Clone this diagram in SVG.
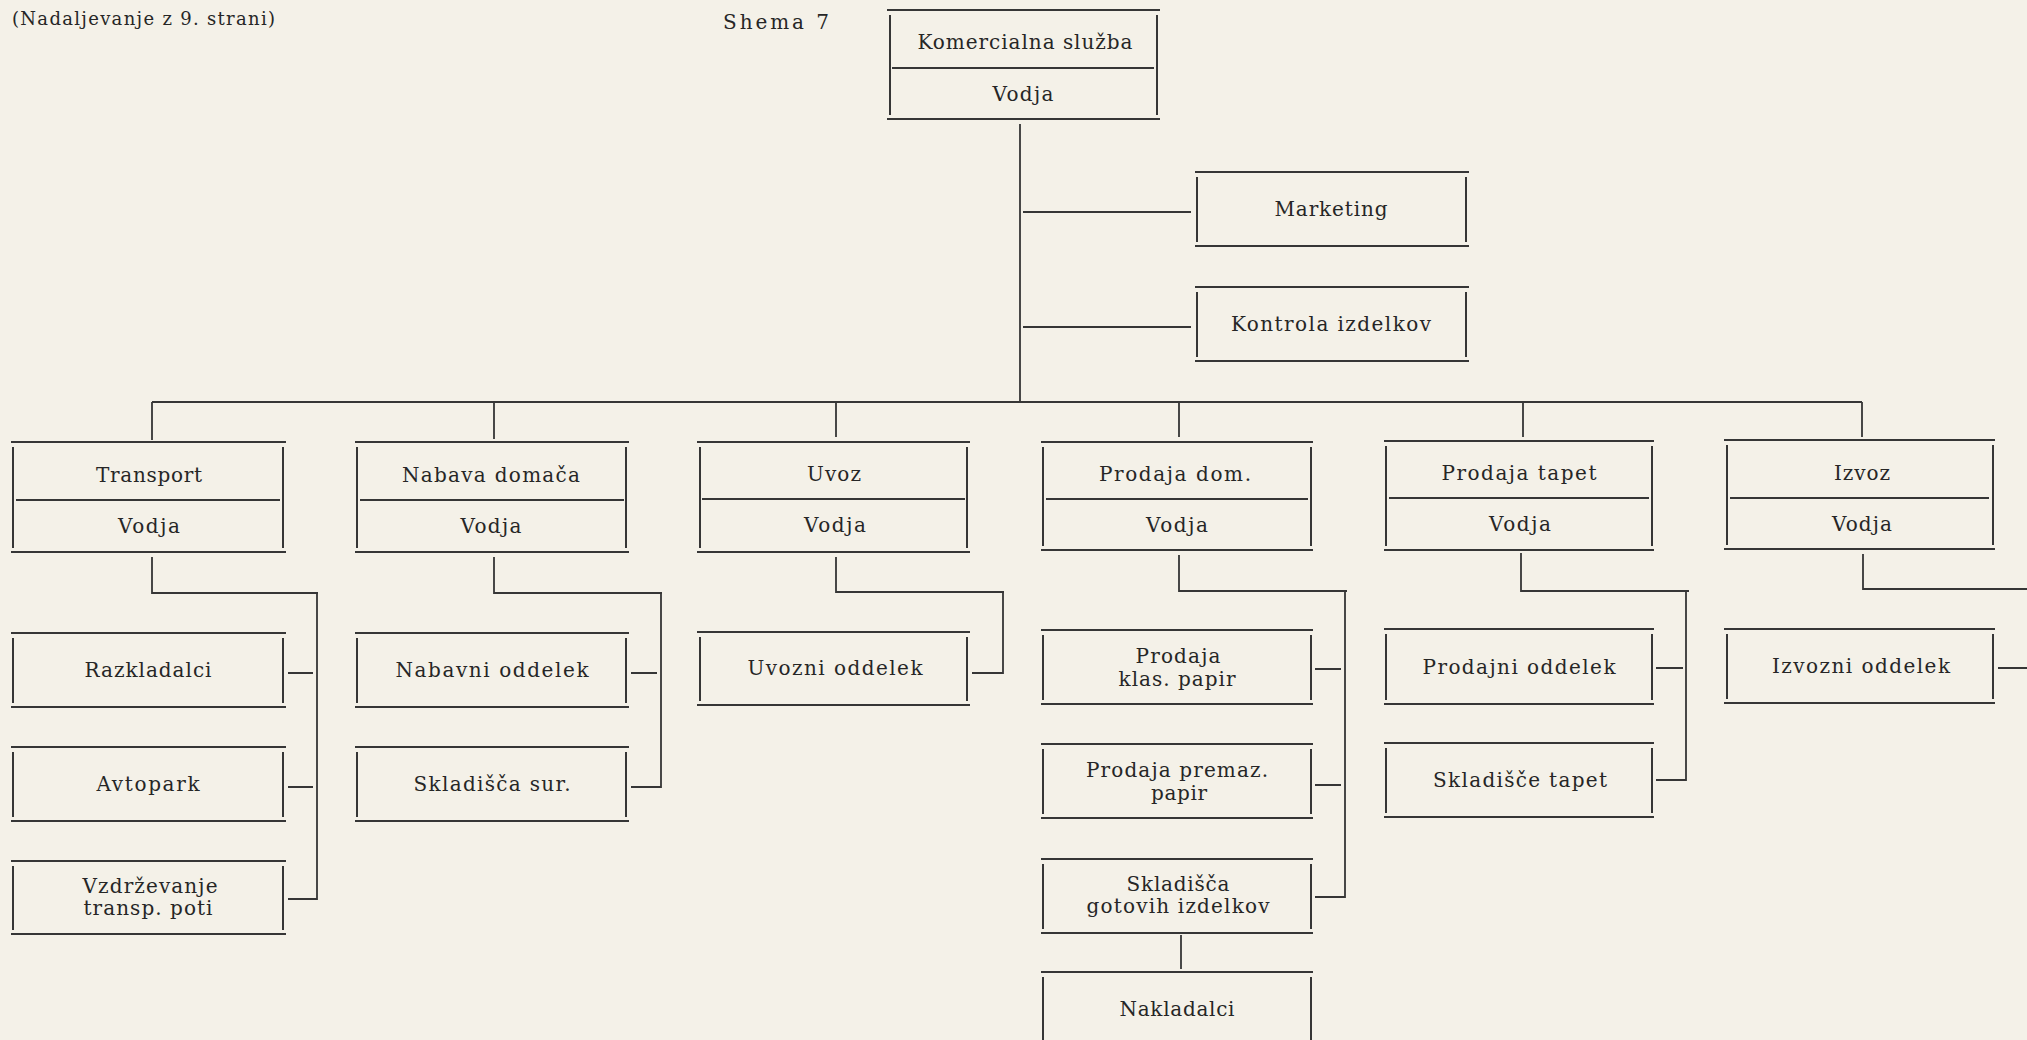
<svg xmlns="http://www.w3.org/2000/svg" width="2027" height="1040" viewBox="0 0 2027 1040">
<style>
.bg{fill:#f4f1e8}
.b{fill:none;stroke:#363636;stroke-width:2}
.c{fill:none;stroke:#363636;stroke-width:1.8}
.t{font-family:"DejaVu Serif","Liberation Serif",serif;font-size:20px;fill:#262626;text-anchor:middle}
.h{font-family:"DejaVu Serif","Liberation Serif",serif;font-size:18px;fill:#262626}
</style>
<rect class="bg" x="0" y="0" width="2027" height="1040"/>
<g id="header">
<text class="h" x="12" y="25" textLength="263" lengthAdjust="spacing">(Nadaljevanje z 9. strani)</text>
<text class="h" x="723" y="29" style="font-size:20px" textLength="106" lengthAdjust="spacing">Shema 7</text>
</g>
<g id="connectors">
<path class="c" d="M1020 124V401M1023 212H1191M1023 327H1191M152 402H1862M152 402V440M494 402V439M836 402V437M1179 402V437M1523 402V437M1862 402V437"/>
<path class="c" d="M152 557V593H318M317 593V900M288 673H313M288 787H313M288 899H317"/>
<path class="c" d="M494 557V593H662M661 593V788M631 673H657M631 787H661"/>
<path class="c" d="M836 557V592H1004M1003 592V674M972 673H1003"/>
<path class="c" d="M1179 555V591H1347M1345 591V898M1315 669H1341M1315 785H1341M1315 897H1345"/>
<path class="c" d="M1181 935V969"/>
<path class="c" d="M1521 553V591H1689M1686 591V781M1656 668H1683M1656 780H1686"/>
<path class="c" d="M1863 554V589H2027M1998 668H2027"/>
</g>
<g id="komercialna">
<path class="b" d="M887 10H1160M887 119H1160M890 15V115M1157 15V115M892 68H1154"/>
<text class="t" x="1025" y="49" textLength="215" lengthAdjust="spacing">Komercialna služba</text>
<text class="t" x="1023" y="101" textLength="61" lengthAdjust="spacing">Vodja</text>
</g>
<g id="marketing">
<path class="b" d="M1195 172H1469M1195 246H1469M1197 177V242M1466 177V242"/>
<text class="t" x="1331" y="216" textLength="113" lengthAdjust="spacing">Marketing</text>
</g>
<g id="kontrola">
<path class="b" d="M1195 287H1469M1195 361H1469M1197 292V357M1466 292V357"/>
<text class="t" x="1331" y="331" textLength="200" lengthAdjust="spacing">Kontrola izdelkov</text>
</g>
<g id="transport">
<path class="b" d="M11 442H286M11 552H286M13 447V548M283 447V548M16 500H280"/>
<text class="t" x="149" y="482" textLength="106" lengthAdjust="spacing">Transport</text>
<text class="t" x="149" y="533" textLength="62" lengthAdjust="spacing">Vodja</text>
</g>
<g id="nabava">
<path class="b" d="M355 442H629M355 552H629M357 447V548M626 447V548M360 500H624"/>
<text class="t" x="491" y="482" textLength="178" lengthAdjust="spacing">Nabava domača</text>
<text class="t" x="491" y="533" textLength="61" lengthAdjust="spacing">Vodja</text>
</g>
<g id="uvoz">
<path class="b" d="M697 442H970M697 552H970M700 447V548M967 447V548M702 499H965"/>
<text class="t" x="834" y="481" textLength="54" lengthAdjust="spacing">Uvoz</text>
<text class="t" x="835" y="532" textLength="62" lengthAdjust="spacing">Vodja</text>
</g>
<g id="prodaja-dom">
<path class="b" d="M1041 442H1313M1041 550H1313M1043 447V546M1311 447V546M1046 499H1308"/>
<text class="t" x="1175" y="481" textLength="152" lengthAdjust="spacing">Prodaja dom.</text>
<text class="t" x="1177" y="532" textLength="62" lengthAdjust="spacing">Vodja</text>
</g>
<g id="prodaja-tapet">
<path class="b" d="M1384 441H1654M1384 550H1654M1386 446V546M1652 446V546M1389 498H1649"/>
<text class="t" x="1519" y="480" textLength="155" lengthAdjust="spacing">Prodaja tapet</text>
<text class="t" x="1520" y="531" textLength="62" lengthAdjust="spacing">Vodja</text>
</g>
<g id="izvoz">
<path class="b" d="M1724 440H1995M1724 549H1995M1727 445V545M1993 445V545M1730 498H1989"/>
<text class="t" x="1862" y="480" textLength="56" lengthAdjust="spacing">Izvoz</text>
<text class="t" x="1862" y="531" textLength="60" lengthAdjust="spacing">Vodja</text>
</g>
<g id="razkladalci">
<path class="b" d="M11 633H286M11 707H286M13 638V703M283 638V703"/>
<text class="t" x="148" y="677" textLength="127" lengthAdjust="spacing">Razkladalci</text>
</g>
<g id="avtopark">
<path class="b" d="M11 747H286M11 821H286M13 752V817M283 752V817"/>
<text class="t" x="148" y="791" textLength="103" lengthAdjust="spacing">Avtopark</text>
</g>
<g id="vzdrzevanje">
<path class="b" d="M11 861H286M11 934H286M13 866V930M283 866V930"/>
<text class="t" x="150" y="893" textLength="135" lengthAdjust="spacing">Vzdrževanje</text>
<text class="t" x="148" y="915" textLength="129" lengthAdjust="spacing">transp. poti</text>
</g>
<g id="nabavni-oddelek">
<path class="b" d="M355 633H629M355 707H629M357 638V703M626 638V703"/>
<text class="t" x="492" y="677" textLength="193" lengthAdjust="spacing">Nabavni oddelek</text>
</g>
<g id="skladisca-sur">
<path class="b" d="M355 747H629M355 821H629M357 752V817M626 752V817"/>
<text class="t" x="492" y="791" textLength="157" lengthAdjust="spacing">Skladišča sur.</text>
</g>
<g id="uvozni-oddelek">
<path class="b" d="M697 632H970M697 705H970M700 637V701M967 637V701"/>
<text class="t" x="835" y="675" textLength="175" lengthAdjust="spacing">Uvozni oddelek</text>
</g>
<g id="prodaja-klas">
<path class="b" d="M1041 630H1313M1041 704H1313M1043 635V700M1311 635V700"/>
<text class="t" x="1178" y="663" textLength="85" lengthAdjust="spacing">Prodaja</text>
<text class="t" x="1177" y="686" textLength="117" lengthAdjust="spacing">klas. papir</text>
</g>
<g id="prodaja-premaz">
<path class="b" d="M1041 744H1313M1041 818H1313M1043 749V814M1311 749V814"/>
<text class="t" x="1177" y="777" textLength="182" lengthAdjust="spacing">Prodaja premaz.</text>
<text class="t" x="1179" y="800" textLength="56" lengthAdjust="spacing">papir</text>
</g>
<g id="skladisca-gotovih">
<path class="b" d="M1041 859H1313M1041 933H1313M1043 864V929M1311 864V929"/>
<text class="t" x="1178" y="891" textLength="103" lengthAdjust="spacing">Skladišča</text>
<text class="t" x="1178" y="913" textLength="183" lengthAdjust="spacing">gotovih izdelkov</text>
</g>
<g id="nakladalci">
<path class="b" d="M1041 972H1313M1043 977V1040M1311 977V1040"/>
<text class="t" x="1177" y="1016" textLength="115" lengthAdjust="spacing">Nakladalci</text>
</g>
<g id="prodajni-oddelek">
<path class="b" d="M1384 629H1654M1384 704H1654M1386 634V700M1652 634V700"/>
<text class="t" x="1519" y="674" textLength="193" lengthAdjust="spacing">Prodajni oddelek</text>
</g>
<g id="skladisce-tapet">
<path class="b" d="M1384 743H1654M1384 817H1654M1386 748V813M1652 748V813"/>
<text class="t" x="1520" y="787" textLength="174" lengthAdjust="spacing">Skladišče tapet</text>
</g>
<g id="izvozni-oddelek">
<path class="b" d="M1724 629H1995M1724 703H1995M1727 634V699M1993 634V699"/>
<text class="t" x="1861" y="673" textLength="178" lengthAdjust="spacing">Izvozni oddelek</text>
</g>
</svg>
